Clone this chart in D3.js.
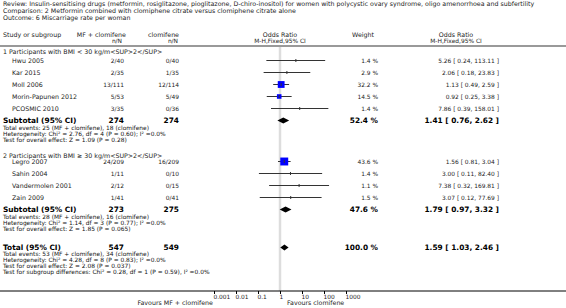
<!DOCTYPE html>
<html>
<head>
<meta charset="utf-8">
<script src="https://cdn.jsdelivr.net/npm/d3@7"></script>
<style>
  html, body { margin: 0; padding: 0; background: #fff; }
  svg { display: block; font-family: "DejaVu Sans", Verdana, sans-serif; }
</style>
</head>
<body>
<svg id="forest" width="566" height="308"></svg>
<script>
// ---- data ----
const titleLines = [
  "Review:  Insulin-sensitising drugs (metformin, rosiglitazone, pioglitazone, D-chiro-inositol) for women with polycystic ovary syndrome, oligo amenorrhoea and subfertility",
  "Comparison:  2 Metformin combined with clomiphene citrate versus clomiphene citrate alone",
  "Outcome:  6 Miscarriage rate per woman"
];

const subgroupLabels = [
  "1 Participants with BMI < 30 kg/m<SUP>2</SUP>",
  "2 Participants with BMI \u2265 30 kg/m<SUP>2</SUP>"
];

const studies   = ["Hwu 2005", "Kar 2015", "Moll 2006", "Morin-Papunen 2012", "PCOSMIC 2010",
                   "Legro 2007", "Sahin 2004", "Vandermolen 2001", "Zain 2009"];
const studyGroup = [0, 0, 0, 0, 0, 1, 1, 1, 1];
const mfEvents  = [2, 2, 13, 5, 3, 24, 1, 2, 1];
const mfTotal   = [40, 35, 111, 53, 35, 209, 11, 12, 41];
const clEvents  = [0, 1, 12, 5, 0, 16, 0, 0, 0];
const clTotal   = [40, 35, 114, 49, 36, 209, 10, 15, 41];
const weights   = [1.4, 2.9, 32.2, 14.5, 1.4, 43.6, 1.4, 1.1, 1.5];
const oddsRatio = [5.26, 2.06, 1.13, 0.92, 7.86, 1.56, 3.00, 7.38, 3.07];
const ciLow     = [0.24, 0.18, 0.49, 0.25, 0.39, 0.81, 0.11, 0.32, 0.12];
const ciHigh    = [113.11, 23.83, 2.59, 3.38, 158.01, 3.04, 82.40, 169.81, 77.69];

const subMF     = [274, 273];
const subCl     = [274, 275];
const subWeight = [52.4, 47.6];
const subOR     = [1.41, 1.79];
const subLow    = [0.76, 0.97];
const subHigh   = [2.62, 3.32];
const subNotes  = [
  ["Total events: 25 (MF + clomifene), 18 (clomifene)",
   "Heterogeneity: Chi\u00b2 = 2.76, df = 4 (P = 0.60); I\u00b2 =0.0%",
   "Test for overall effect: Z = 1.09 (P = 0.28)"],
  ["Total events: 28 (MF + clomifene), 16 (clomifene)",
   "Heterogeneity: Chi\u00b2 = 1.14, df = 3 (P = 0.77); I\u00b2 =0.0%",
   "Test for overall effect: Z = 1.85 (P = 0.065)"]
];

const totalMF = 547, totalCl = 549, totalWeight = 100.0;
const totalOR = 1.59, totalLow = 1.03, totalHigh = 2.46;
const totalNotes = [
  "Total events: 53 (MF + clomifene), 34 (clomifene)",
  "Heterogeneity: Chi\u00b2 = 4.28, df = 8 (P = 0.83); I\u00b2 =0.0%",
  "Test for overall effect: Z = 2.08 (P = 0.037)",
  "Test for subgroup differences: Chi\u00b2 = 0.28, df = 1 (P = 0.59), I\u00b2 =0.0%"
];

const tickValues = [0.001, 0.01, 0.1, 1, 10, 100, 1000];
const tickLabels = ["0.001", "0.01", "0.1", "1", "10", "100", "1000"];
const favoursLeft = "Favours MF + clomifene";
const favoursRight = "Favours clomifene";

// ---- layout ----
const svg = d3.select("#forest");
const width = +svg.attr("width");

const col = { study: 3, indent: 12, mf: 124, cl: 179, weight: 378, ci: 499 };
const label = 6.3, note = 5.9, num = 5.9, bold = 7.4;
const axisY = 291;

const x = d3.scaleLog().domain([0.001, 1000]).range([214, 346]);

const fmt2 = d3.format(".2f");
const ciText = (o, l, h) => `${fmt2(o)} [ ${fmt2(l)}, ${fmt2(h)} ]`;
const wText = w => `${d3.format(".1f")(w)} %`;

function text(xp, yp, str, opts = {}) {
  return svg.append("text")
    .attr("x", xp)
    .attr("y", yp)
    .attr("dy", "0.35em")
    .attr("text-anchor", opts.anchor || "start")
    .attr("font-size", opts.size || label)
    .attr("font-weight", opts.weight || "normal")
    .attr("fill", opts.fill || "#222")
    .text(str);
}
const boldOpts = (anchor) => ({ size: bold, weight: "bold", anchor: anchor || "start", fill: "#000" });
const noteOpts = { size: note, fill: "#111" };

// title block
titleLines.forEach((t, i) => text(3, 4 + i * 6.8, t, { size: 6.3 }));

// column headers
text(col.study, 35, "Study or subgroup");
text(col.mf + 2, 35, "MF + clomifene", { anchor: "end" });
text(col.mf - 2, 41, "n/N", { anchor: "end", size: num });
text(col.cl, 35, "clomifene", { anchor: "end" });
text(col.cl - 1, 41, "n/N", { anchor: "end", size: num });
text(x(1), 35, "Odds Ratio", { anchor: "middle" });
text(x(1), 41, "M-H,Fixed,95% CI", { anchor: "middle", size: num });
text(363, 35, "Weight", { anchor: "middle" });
text(456, 35, "Odds Ratio", { anchor: "middle" });
text(456, 41, "M-H,Fixed,95% CI", { anchor: "middle", size: num });

svg.append("line")
  .attr("x1", 0).attr("x2", width)
  .attr("y1", 46).attr("y2", 46)
  .attr("stroke", "#999").attr("stroke-width", 2);

// reference line at OR = 1
svg.append("line")
  .attr("x1", x(1)).attr("x2", x(1))
  .attr("y1", 47).attr("y2", axisY)
  .attr("stroke", "#ddd").attr("stroke-width", 2.5);

// build row positions
const studyY = [];
const groupY = [];
const subY = [];
let y = 52;
subgroupLabels.forEach((g, gi) => {
  groupY.push(y);
  let sy = y + (gi === 0 ? 8.5 : 6);
  studies.forEach((s, i) => {
    if (studyGroup[i] !== gi) return;
    studyY[i] = sy;
    sy += 12;
  });
  subY.push(sy);
  y = sy + 35;
});
const totalY = subY[1] + 38;

const plot = svg.append("g");

// subgroup labels
groupY.forEach((gy, gi) => text(col.study, gy, subgroupLabels[gi]));

// study rows
studies.forEach((s, i) => {
  const sy = studyY[i];
  text(col.indent, sy, s);
  text(col.mf, sy, `${mfEvents[i]}/${mfTotal[i]}`, { anchor: "end", size: num });
  text(col.cl, sy, `${clEvents[i]}/${clTotal[i]}`, { anchor: "end", size: num });
  text(col.weight, sy, wText(weights[i]), { anchor: "end", size: num });
  text(col.ci, sy, ciText(oddsRatio[i], ciLow[i], ciHigh[i]), { anchor: "end", size: num });

  plot.append("line")
    .attr("x1", x(ciLow[i])).attr("x2", x(ciHigh[i]))
    .attr("y1", sy).attr("y2", sy)
    .attr("stroke", "#333").attr("stroke-width", 1);

  const side = 1.2 * Math.sqrt(weights[i]);
  if (side > 2.5) {
    plot.append("rect")
      .attr("x", x(oddsRatio[i]) - side / 2)
      .attr("y", sy - side / 2)
      .attr("width", side).attr("height", side)
      .attr("fill", "#0000ff");
  }
  plot.append("line")
    .attr("x1", x(oddsRatio[i])).attr("x2", x(oddsRatio[i]))
    .attr("y1", sy - 1.5).attr("y2", sy + 1.5)
    .attr("stroke", "#333").attr("stroke-width", 1);
});

function diamond(cy, o, l, h) {
  const hh = 3;
  plot.append("path")
    .attr("d", `M${x(l)},${cy}L${x(o)},${cy - hh}L${x(h)},${cy}L${x(o)},${cy + hh}Z`)
    .attr("fill", "#000");
}

// subtotals
subY.forEach((sy, gi) => {
  text(col.study, sy, "Subtotal (95% CI)", boldOpts());
  text(col.mf, sy, subMF[gi], boldOpts("end"));
  text(col.cl, sy, subCl[gi], boldOpts("end"));
  text(col.weight, sy, wText(subWeight[gi]), boldOpts("end"));
  text(col.ci, sy, ciText(subOR[gi], subLow[gi], subHigh[gi]), boldOpts("end"));
  subNotes[gi].forEach((n, k) => text(col.study, sy + 7 + k * 6, n, noteOpts));
  diamond(sy, subOR[gi], subLow[gi], subHigh[gi]);
});

// overall total
text(col.study, totalY, "Total (95% CI)", boldOpts());
text(col.mf, totalY, totalMF, boldOpts("end"));
text(col.cl, totalY, totalCl, boldOpts("end"));
text(col.weight, totalY, wText(totalWeight), boldOpts("end"));
text(col.ci, totalY, ciText(totalOR, totalLow, totalHigh), boldOpts("end"));
totalNotes.forEach((n, k) => text(col.study, totalY + 6.5 + k * 6, n, noteOpts));
diamond(totalY, totalOR, totalLow, totalHigh);

// axis
svg.append("line")
  .attr("x1", 0).attr("x2", width)
  .attr("y1", axisY).attr("y2", axisY)
  .attr("stroke", "#000").attr("stroke-width", 1);

const axis = d3.axisBottom(x)
  .tickValues(tickValues)
  .tickSize(3)
  .tickFormat((d, i) => tickLabels[i]);

const gAxis = svg.append("g")
  .attr("transform", `translate(0,${axisY})`)
  .call(axis);
gAxis.select(".domain").remove();
gAxis.selectAll("text")
  .attr("font-family", "DejaVu Sans, Verdana, sans-serif")
  .attr("font-size", num)
  .attr("fill", "#222")
  .attr("y", 4)
  .attr("text-anchor", "start")
  .attr("dx", -1);

text(x(0.001) - 1, 303, favoursLeft, { anchor: "end" });
text(x(1) + 7, 303, favoursRight);
</script>
</body>
</html>
